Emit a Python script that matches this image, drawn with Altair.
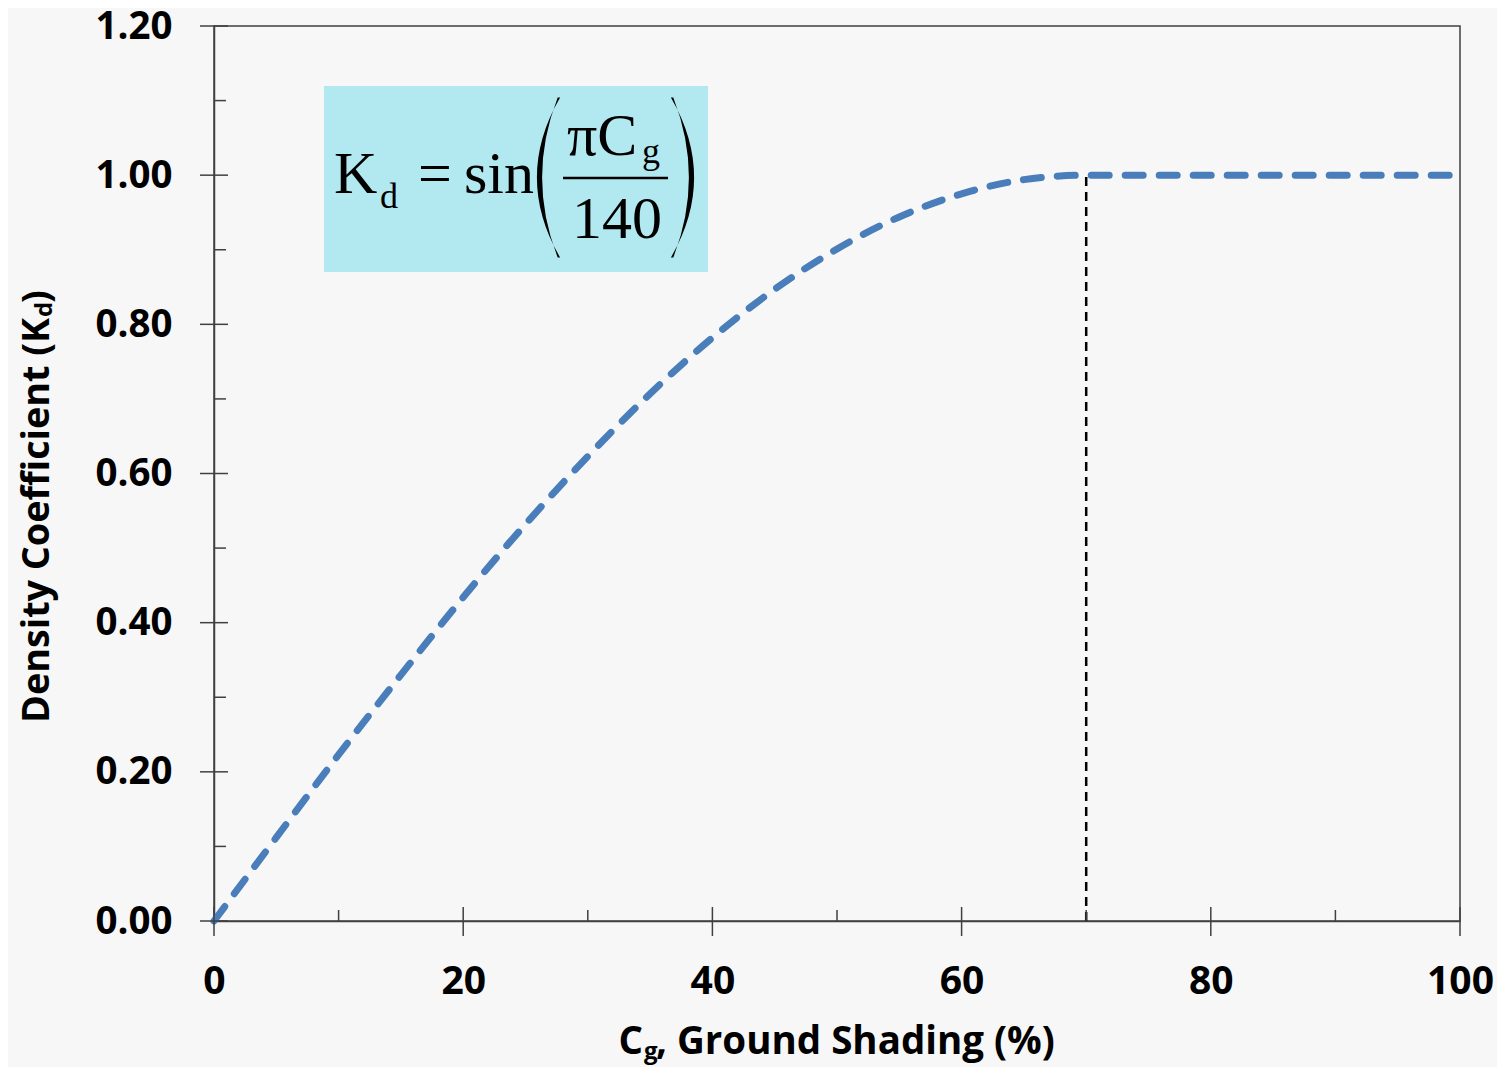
import altair as alt
import pandas as pd

# ---- data ----
cg_values = [0, 5, 10, 15, 20, 25, 30, 35, 40, 45, 50, 55, 60, 65, 70, 75, 80, 85, 90, 95, 100]
kd_values = [0.0, 0.112, 0.223, 0.330, 0.434, 0.532, 0.623, 0.707, 0.782, 0.847, 0.901,
             0.944, 0.975, 0.994, 1.0, 1.0, 1.0, 1.0, 1.0, 1.0, 1.0]
ref_x = [70]
ref_bottom = [0.0]
ref_top = [1.0]
x_major = [0, 20, 40, 60, 80, 100]
x_minor = [10, 30, 50, 70, 90]
y_major = [0.0, 0.2, 0.4, 0.6, 0.8, 1.0, 1.2]
y_minor = [0.1, 0.3, 0.5, 0.7, 0.9, 1.1]

W, H = 1246, 895
AX = "#404040"
SANS = "Open Sans"
SERIF = "Liberation Serif"

xs = alt.Scale(domain=[0, 100], nice=False)
ys = alt.Scale(domain=[0, 1.2], nice=False)

curve_df = pd.DataFrame({"Cg": cg_values, "Kd": kd_values})

XA = alt.Axis(values=x_major, format="d", title=None, ticks=False, tickSize=0,
              grid=False, domainColor=AX, domainWidth=1.5, labelFlush=False,
              labelFont=SANS, labelFontWeight="bold", labelFontSize=39,
              labelColor="black", labelPadding=41, labelBaseline="top")
YA = alt.Axis(values=y_major, format=".2f", title=None, ticks=False, tickSize=0,
              grid=False, domainColor=AX, domainWidth=1.5, labelFlush=False,
              labelFont=SANS, labelFontWeight="bold", labelFontSize=38.5,
              labelColor="black", labelPadding=42)


def X(field="Cg"):
    return alt.X(f"{field}:Q", scale=xs, axis=XA, title=None)


def Y(field="Kd"):
    return alt.Y(f"{field}:Q", scale=ys, axis=YA, title=None)


curve = alt.Chart(curve_df).mark_line(
    color="#4a7ebb", strokeWidth=7, strokeDash=[18, 16], strokeCap="round",
    interpolate="monotone", clip=False
).encode(x=X(), y=Y())

ref_line = alt.Chart(pd.DataFrame({"Cg": ref_x, "Kd": ref_bottom, "top": ref_top})).mark_rule(
    color="black", strokeWidth=2.5, strokeDash=[9, 6]
).encode(x=X(), y=Y(), y2="top:Q")

# tick marks (major cross the axis, minor inside)
xmaj = alt.Chart(pd.DataFrame({"Cg": x_major})).mark_rule(color=AX, strokeWidth=1.5).encode(
    x=X(), y=alt.value(H - 14), y2=alt.value(H + 15))
xmin = alt.Chart(pd.DataFrame({"Cg": x_minor})).mark_rule(color=AX, strokeWidth=1.5).encode(
    x=X(), y=alt.value(H - 11), y2=alt.value(H))
ymaj = alt.Chart(pd.DataFrame({"Kd": y_major})).mark_rule(color=AX, strokeWidth=1.5).encode(
    y=Y(), x=alt.value(-14), x2=alt.value(14))
ymin = alt.Chart(pd.DataFrame({"Kd": y_minor})).mark_rule(color=AX, strokeWidth=1.5).encode(
    y=Y(), x=alt.value(0), x2=alt.value(12))

one = pd.DataFrame({"a": [0]})


def txt(s, x, y, size, font=SANS, weight="bold", align="left", baseline="alphabetic", angle=0):
    return alt.Chart(one).mark_text(
        text=s, font=font, fontWeight=weight, fontSize=size, align=align,
        baseline=baseline, angle=angle, color="black"
    ).encode(x=alt.value(x), y=alt.value(y))


# axis titles with subscripts
xt_C = txt("C", 429, 1028, 38.5, align="right")
xt_g = txt("g", 430, 1033, 24)
xt_rest = txt(", Ground Shading (%)", 442, 1028, 38.5)

yt_main = txt("Density Coefficient (K", -165, 292, 37.7, align="right", angle=270)
yt_d = txt("d", -162, 291, 24, align="left", angle=270)
yt_close = txt(")", -165, 277, 37.7, align="left", angle=270)

# equation box
box = alt.Chart(one).mark_rect(color="#b2e8f0").encode(
    x=alt.value(110), x2=alt.value(494), y=alt.value(60), y2=alt.value(246))

eq_K = txt("K", 120, 167, 60, font=SERIF, weight="normal")
eq_d = txt("d", 166, 182, 36, font=SERIF, weight="normal")
eq_eq = txt("=", 204, 167, 60, font=SERIF, weight="normal")
eq_sin = txt("sin", 250, 167, 60, font=SERIF, weight="normal")
eq_piC = txt("\u03c0C", 353, 129, 60, font=SERIF, weight="normal")
eq_g = txt("g", 428, 137, 36, font=SERIF, weight="normal")
eq_140 = txt("140", 358, 212, 60, font=SERIF, weight="normal")
eq_bar = alt.Chart(one).mark_rule(color="black", strokeWidth=2.5).encode(
    x=alt.value(349), x2=alt.value(454), y=alt.value(152))

LP = "M 0.145 -1 Q -0.435 0 0.145 1 L 0.115 1 Q -0.275 0 0.115 -1 Z"
RP = "M -0.145 -1 Q 0.435 0 -0.145 1 L -0.115 1 Q 0.275 0 -0.115 -1 Z"
eq_lp = alt.Chart(one).mark_point(shape=LP, filled=True, size=25600, color="black",
                                  opacity=1, strokeWidth=0).encode(
    x=alt.value(334.5), y=alt.value(151.5))
eq_rp = alt.Chart(one).mark_point(shape=RP, filled=True, size=25600, color="black",
                                  opacity=1, strokeWidth=0).encode(
    x=alt.value(468.5), y=alt.value(151.5))

chart = alt.layer(
    curve, ref_line, xmaj, xmin, ymaj, ymin,
    box, eq_K, eq_d, eq_eq, eq_sin, eq_piC, eq_g, eq_140, eq_bar, eq_lp, eq_rp,
    xt_C, xt_g, xt_rest, yt_main, yt_d, yt_close,
).properties(
    width=W, height=H,
    autosize=alt.AutoSizeParams(type="none"),
    padding={"left": 206, "top": 18, "right": 37, "bottom": 146},
    background="#f7f7f7",
).configure_view(
    stroke=AX, strokeWidth=1.5
)

chart.save("out.html", embed_options={"renderer": "svg", "actions": False})
